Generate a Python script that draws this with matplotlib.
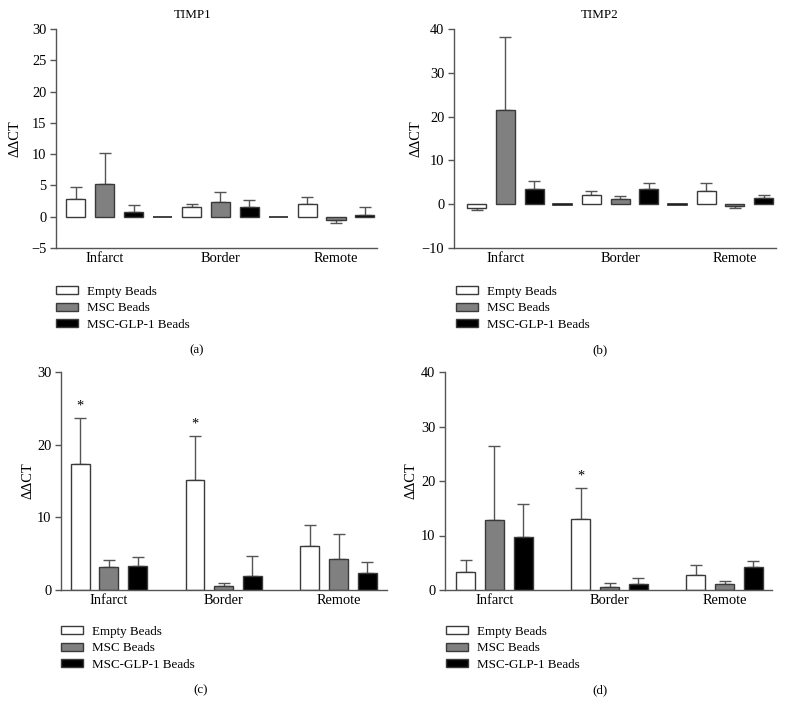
import matplotlib
matplotlib.use("Agg")
import matplotlib.pyplot as plt
import numpy as np

plt.rcParams['font.family'] = ['Liberation Serif', 'DejaVu Serif']

groups = ["Infarct", "Border", "Remote"]
series = ["Empty Beads", "MSC Beads", "MSC-GLP-1 Beads"]

# Panel (a) TIMP1
a_vals = {"Empty Beads": [2.9, 1.5, 2.0], "MSC Beads": [5.3, 2.3, -0.5], "MSC-GLP-1 Beads": [0.8, 1.5, 0.3]}
a_err = {"Empty Beads": [1.9, 0.5, 1.1], "MSC Beads": [4.9, 1.7, 0.5], "MSC-GLP-1 Beads": [1.0, 1.1, 1.3]}
a_base = [-0.12, -0.12]
# Panel (b) TIMP2
b_vals = {"Empty Beads": [-0.8, 2.2, 2.9], "MSC Beads": [21.4, 1.2, -0.5], "MSC-GLP-1 Beads": [3.4, 3.4, 1.4]}
b_err = {"Empty Beads": [0.6, 0.7, 1.9], "MSC Beads": [16.7, 0.7, 0.3], "MSC-GLP-1 Beads": [1.9, 1.5, 0.7]}
b_base = [-0.2, -0.2]
# Panel (c)
c_vals = {"Empty Beads": [17.3, 15.2, 6.0], "MSC Beads": [3.1, 0.5, 4.2], "MSC-GLP-1 Beads": [3.3, 1.9, 2.4]}
c_err = {"Empty Beads": [6.4, 6.0, 3.0], "MSC Beads": [1.0, 0.5, 3.5], "MSC-GLP-1 Beads": [1.25, 2.8, 1.4]}
c_star = [True, True, False]
# Panel (d)
d_vals = {"Empty Beads": [3.3, 13.0, 2.75], "MSC Beads": [12.9, 0.55, 1.15], "MSC-GLP-1 Beads": [9.8, 1.05, 4.3]}
d_err = {"Empty Beads": [2.15, 5.8, 1.9], "MSC Beads": [13.6, 0.65, 0.45], "MSC-GLP-1 Beads": [6.0, 1.1, 1.1]}
d_star = [False, True, False]

colors = {"Empty Beads": "white", "MSC Beads": "#808080", "MSC-GLP-1 Beads": "black"}
edge = "#3a3a3a"
FS = 9.4
W, H = 791, 717

fig = plt.figure(figsize=(W / 100, H / 100), dpi=100)


def make_ax(l, r, t, b):
    return fig.add_axes([l / W, 1 - b / H, (r - l) / W, (b - t) / H])


def draw(ax, vals, errs, ylim, yticks, xlim, base=None, stars=None):
    bw = 0.66
    for si, s in enumerate(series):
        x = np.arange(len(groups)) * 4 + si
        v = np.array(vals[s])
        e = np.array(errs[s])
        ax.bar(x, v, width=bw, color=colors[s], edgecolor=edge, linewidth=1.0, zorder=2)
        lower = np.where(v < 0, e, 0)
        upper = np.where(v >= 0, e, 0)
        ax.errorbar(x, v, yerr=[lower, upper], fmt='none', ecolor="#555555",
                    elinewidth=1.0, capsize=4, capthick=1.0, zorder=1)
    if base is not None:
        xb = np.arange(len(base)) * 4 + 3
        ax.bar(xb, base, width=bw, color="#222222", edgecolor="#222222", linewidth=1.2, zorder=2)
    if stars is not None:
        v = np.array(vals["Empty Beads"])
        e = np.array(errs["Empty Beads"])
        span = ylim[1] - ylim[0]
        for gi, st in enumerate(stars):
            if st:
                ax.text(gi * 4, v[gi] + e[gi] + span * 0.025, "*", ha='center', va='bottom',
                        fontsize=FS + 1)
    ax.set_ylim(*ylim)
    ax.set_yticks(yticks)
    ax.set_yticklabels(["\u2212%d" % abs(t) if t < 0 else "%d" % t for t in yticks])
    ax.set_xlim(*xlim)
    ax.set_xticks(np.arange(len(groups)) * 4 + 1)
    ax.set_xticklabels(groups)
    for sp in ["top", "right"]:
        ax.spines[sp].set_visible(False)
    for sp in ["left", "bottom"]:
        ax.spines[sp].set_color("#555555")
        ax.spines[sp].set_linewidth(1.0)
    ax.tick_params(axis='y', direction='out', length=4, width=1.0, color="#555555",
                   labelsize=FS + 1, pad=3)
    ax.tick_params(axis='x', length=0, labelsize=FS + 1, pad=3)
    ax.set_ylabel("\u0394\u0394CT", fontsize=FS + 1)


axa = make_ax(56, 377, 29, 248)
draw(axa, a_vals, a_err, (-5, 30), [-5, 0, 5, 10, 15, 20, 25, 30], (-0.69, 10.42), base=a_base)
axa.yaxis.set_label_coords(-0.108, 0.5)
axb = make_ax(454, 776, 29, 248)
draw(axb, b_vals, b_err, (-10, 40), [-10, 0, 10, 20, 30, 40], (-0.79, 10.43), base=b_base)
axb.yaxis.set_label_coords(-0.097, 0.5)
axc = make_ax(61, 387, 372, 590)
draw(axc, c_vals, c_err, (0, 30), [0, 10, 20, 30], (-0.67, 10.69), stars=c_star)
axc.yaxis.set_label_coords(-0.08, 0.5)
axd = make_ax(445, 772, 372, 590)
draw(axd, d_vals, d_err, (0, 40), [0, 10, 20, 30, 40], (-0.72, 10.65), stars=d_star)
axd.yaxis.set_label_coords(-0.083, 0.5)

fig.text(193 / W, 1 - 15 / H, "TIMP1", ha='center', va='center', fontsize=FS)
fig.text(600 / W, 1 - 15 / H, "TIMP2", ha='center', va='center', fontsize=FS)

from matplotlib.patches import Patch
handles = [Patch(facecolor=colors[s], edgecolor=edge, linewidth=1.0) for s in series]


def legend_at(x, y):
    fig.legend(handles, series, loc='upper left', bbox_to_anchor=(x / W, 1 - y / H),
               frameon=False, fontsize=FS, handlelength=1.65, handleheight=0.55,
               handletextpad=0.7, labelspacing=0.33, borderpad=0, borderaxespad=0)


legend_at(56, 286)
legend_at(456, 286)
legend_at(61, 626)
legend_at(446, 626)

for lab, x, y in [("(a)", 197, 350), ("(b)", 600, 350), ("(c)", 201, 690), ("(d)", 600, 690)]:
    fig.text(x / W, 1 - y / H, lab, ha='center', va='center', fontsize=FS)

fig.savefig("out.png", dpi=100)
